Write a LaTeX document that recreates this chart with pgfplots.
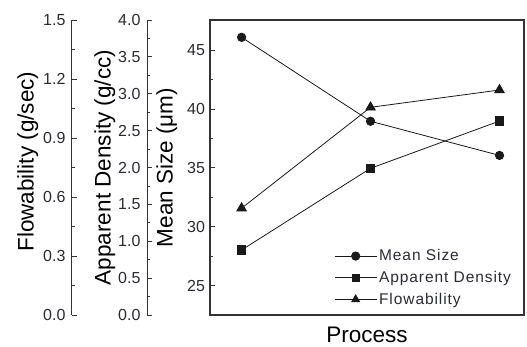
\documentclass[border=0pt]{standalone}
\usepackage{pgfplots}
\pgfplotsset{compat=1.18}
\usepackage{fontspec}
\setmainfont{Liberation Sans}
\definecolor{txt}{HTML}{2A2A36}
\newcommand{\lab}{\fontsize{22.5}{24}\selectfont}
\newcommand{\tck}{\fontsize{16}{17}\selectfont}
\pgfplotsset{
  box/.style={
    scale only axis, anchor=south west, at={(210pt,32pt)}, width=314pt, height=295pt,
    xmin=-0.245, xmax=2.19,
  },
  spine/.style={
    box, hide x axis, axis y line*=left,
    tick align=inside, minor y tick num=1,
    major tick length=5pt, minor tick length=3pt,
    every tick/.style={black!80, line width=0.8pt},
    y axis line style={black!80, line width=1pt},
    /pgf/number format/assume math mode=true,
    yticklabel style={font=\tck, color=txt, xshift=-3pt, /pgf/number format/fixed, /pgf/number format/fixed zerofill, /pgf/number format/precision=1},
    ylabel style={font=\lab, color=black},
  },
}
\begin{document}
\begin{tikzpicture}
\useasboundingbox (0,0) rectangle (527pt,347pt);
% Flowability axis
\begin{axis}[spine, axis y line shift=138pt, ymin=0, ymax=1.5, ytick={0,0.3,...,1.5},
  ylabel={Flowability (g/sec)}, ylabel shift=-2pt,
  ylabel style={at={(ticklabel cs:0.52)}}]
\addplot[black!90, line width=0.8pt, mark=triangle*, mark size=5.5pt] coordinates {(0,0.543) (1,1.056) (2,1.144)};
\end{axis}
% Apparent density axis
\begin{axis}[spine, axis y line shift=63pt, ymin=0, ymax=4, ytick={0,0.5,...,4},
  ylabel={Apparent Density (g/cc)}, ylabel shift=-4pt]
\addplot[black!90, line width=0.8pt, mark=square*, mark size=4.2pt] coordinates {(0,0.881) (1,1.989) (2,2.63)};
\end{axis}
% Main axis
\begin{axis}[
  box, ymin=22.5, ymax=47.55,
  xtick=\empty, ytick={25,30,...,45}, minor y tick num=1, ytick pos=left,
  tick align=inside, major tick length=5pt, minor tick length=3pt,
  every tick/.style={black!80, line width=0.8pt},
  axis line style={black!80, line width=1.1pt},
  /pgf/number format/assume math mode=true,
  yticklabel style={font=\tck, color=txt, xshift=-1.5pt},
  ylabel={Mean Size (μm)}, ylabel style={font=\lab}, ylabel shift=3pt,
  xlabel={Process}, xlabel style={font=\lab}, xlabel shift=8pt,
  legend style={draw=none, fill=none, font=\fontsize{15.5}{17}\selectfont\addfontfeature{LetterSpace=6}, text=txt,
    at={(0.392,0.02)}, anchor=south west, row sep=5pt, inner sep=1pt},
  legend cell align=left,
  legend image code/.code={\draw[mark repeat=2,mark phase=2,#1] plot coordinates {(0pt,0pt) (21pt,0pt) (42pt,0pt)};},
]
\addplot[black!90, line width=0.8pt, mark=*, mark size=4.2pt] coordinates {(0,46.08) (1,38.95) (2,36.05)};
\addlegendentry{Mean Size}
\addlegendimage{black!90, line width=0.8pt, mark=square*, mark size=3.6pt}
\addlegendentry{Apparent Density}
\addlegendimage{black!90, line width=0.8pt, mark=triangle*, mark size=4.6pt}
\addlegendentry{Flowability}
\end{axis}
\end{tikzpicture}
\end{document}
